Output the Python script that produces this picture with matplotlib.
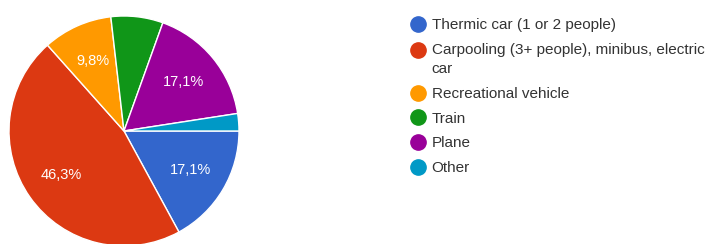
import matplotlib.pyplot as plt
from matplotlib.lines import Line2D
from matplotlib.transforms import Affine2D

# Survey answers (41 responses)
labels = ['Thermic car (1 or 2 people)',
          'Carpooling (3+ people), minibus, electric\ncar',
          'Recreational vehicle', 'Train', 'Plane', 'Other']
counts = [7, 19, 4, 3, 7, 1]
colors = ['#3366cc', '#dc3912', '#ff9900', '#109618', '#990099', '#0099c6']

plt.rcParams['font.family'] = ['Liberation Sans', 'DejaVu Sans']


def pct_label(p):
    # small slices get no label, decimal comma like the original
    if p < 8:
        return ''
    return f'{p:.1f}%'.replace('.', ',')


def plot_pie():
    W, H = 713, 244
    fig = plt.figure(figsize=(W / 100, H / 100), dpi=100)
    cx, cy, r = 124, 244 - 131, 115
    ax = fig.add_axes([(cx - r) / W, (cy - r) / H, 2 * r / W, 2 * r / H])
    wedges, texts, autotexts = ax.pie(
        counts, colors=colors, startangle=0, counterclock=False,
        autopct=pct_label, pctdistance=0.67,
        wedgeprops=dict(edgecolor='white', linewidth=1),
        textprops=dict(color='white', fontsize=10.5))
    for w in wedges:
        w.set_clip_on(False)
    ax.set_xlim(-1, 1)
    ax.set_ylim(-1, 1)
    ax.set_aspect('equal')
    ax.axis('off')

    handles = [Line2D([], [], marker='o', linestyle='', markersize=11,
                      markerfacecolor=c, markeredgecolor=c) for c in colors]
    leg = fig.legend(handles, labels, loc='upper left',
                     bbox_to_anchor=(405 / W, 1 - 12 / H), frameon=False,
                     fontsize=11, labelcolor='#333333', handlelength=0.9,
                     handletextpad=0.45, labelspacing=0.7, borderaxespad=0)
    for t in leg.get_texts():
        t.set_linespacing(1.5)
    # two-line entry: put the dot next to the first line, not centred
    h = leg.legend_handles[1]
    h.set_transform(h.get_transform() + Affine2D().translate(0, 10))

    fig.savefig('out.png', dpi=100, facecolor='white')


def main():
    plot_pie()


if __name__ == '__main__':
    main()
